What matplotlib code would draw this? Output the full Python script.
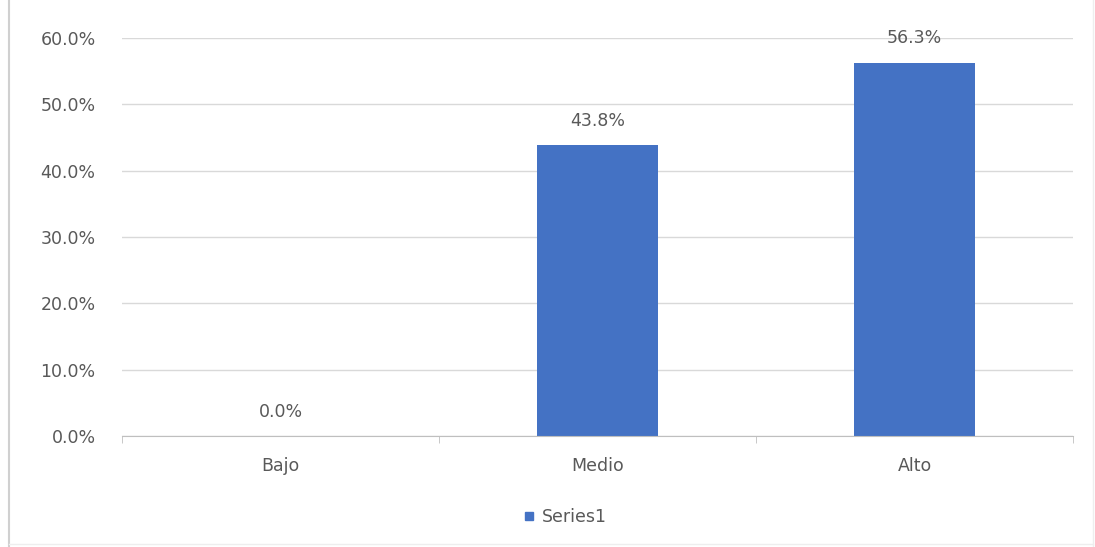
import matplotlib
matplotlib.use("Agg")
import matplotlib.pyplot as plt
from matplotlib.lines import Line2D
from matplotlib.ticker import FuncFormatter

categorias = ["Bajo", "Medio", "Alto"]
porcentajes = [0.0, 43.8, 56.3]
serie = "Series1"

AZUL = "#4472C4"
GRIS_TXT = "#595959"
GRIS_GRID = "#D9D9D9"
FS = 12.5

plt.rcParams["font.family"] = ["DejaVu Sans"]

fig = plt.figure(figsize=(10.95, 5.47), dpi=100)
ax = fig.add_axes([0.1114, 0.203, 0.8686, 0.7275])

x = list(range(len(categorias)))
barras = ax.bar(x, porcentajes, width=0.38, color=AZUL, label=serie, zorder=3)

for b, v in zip(barras, porcentajes):
    ax.annotate(f"{v:.1f}%", (b.get_x() + b.get_width() / 2, v),
                xytext=(0, 11), textcoords="offset points",
                ha="center", va="bottom", fontsize=FS, color=GRIS_TXT)

ax.set_xlim(-0.5, len(categorias) - 0.5)
ax.set_ylim(0, 60)
ax.set_yticks(range(0, 61, 10))
ax.yaxis.set_major_formatter(FuncFormatter(lambda v, _: f"{v:.1f}%"))
ax.set_xticks(x)
ax.set_xticklabels(categorias)
ax.set_xticks([i - 0.5 for i in range(len(categorias) + 1)], minor=True)

ax.grid(axis="y", color=GRIS_GRID, linewidth=1.0, zorder=0)
for lado in ["top", "right", "left"]:
    ax.spines[lado].set_visible(False)
ax.spines["bottom"].set_color("#BFBFBF")
ax.spines["bottom"].set_zorder(4)

ax.tick_params(axis="y", length=0, pad=19, labelsize=FS, labelcolor=GRIS_TXT)
ax.tick_params(axis="x", which="major", length=0, pad=15, labelsize=FS,
               labelcolor=GRIS_TXT)
ax.tick_params(axis="x", which="minor", length=5, color="#BFBFBF")

leyenda = [Line2D([0], [0], marker="s", linestyle="", markersize=6,
                  markerfacecolor=AZUL, markeredgecolor=AZUL, label=serie)]
fig.legend(handles=leyenda, loc="center", bbox_to_anchor=(0.514, 0.055),
           frameon=False, fontsize=FS, handletextpad=0.1, handlelength=1.2,
           labelcolor=GRIS_TXT)

# marco del grafico
fig.add_artist(Line2D([0.008, 0.008], [0.0, 1.0], color="#D0D0D0", linewidth=1.5))
fig.add_artist(Line2D([0.008, 0.998], [0.006, 0.006], color="#EEEEEE", linewidth=1.0))
fig.add_artist(Line2D([0.998, 0.998], [0.0, 1.0], color="#EEEEEE", linewidth=1.0))

fig.savefig("out.png", dpi=100)
